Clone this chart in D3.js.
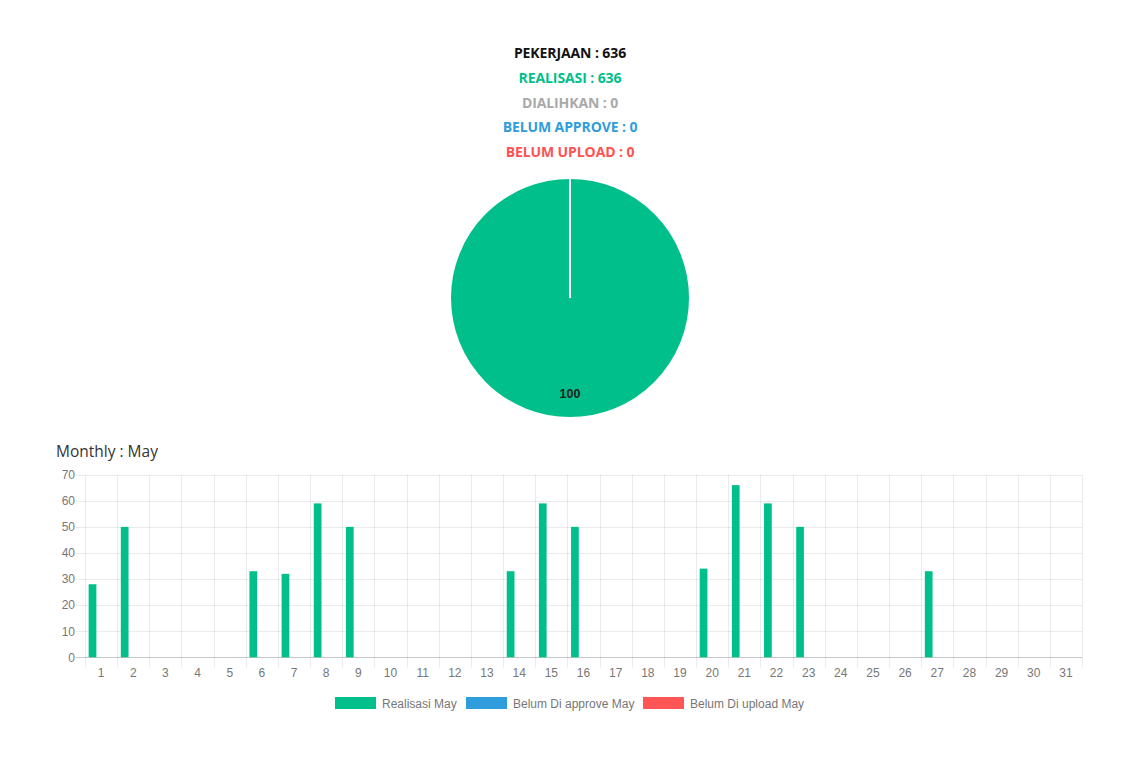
<!DOCTYPE html>
<html>
<head>
<meta charset="utf-8">
<script src="https://cdn.jsdelivr.net/npm/d3@7"></script>
<style>
  html, body { margin: 0; padding: 0; background: #fff; }
  svg { display: block; }
</style>
</head>
<body>
<svg id="chart" width="1140" height="763"></svg>
<script>
// ---- data ----
const summaryLabels = ["PEKERJAAN", "REALISASI", "DIALIHKAN", "BELUM APPROVE", "BELUM UPLOAD"];
const summaryValues = [636, 636, 0, 0, 0];
const summaryColors = ["#111111", "#00bf8a", "#a9a9a9", "#2f9ddb", "#ff5252"];

const pieLabels = ["Realisasi", "Dialihkan", "Belum Approve", "Belum Upload"];
const pieValues = [100, 0, 0, 0];
const pieColors = ["#00bf8a", "#a9a9a9", "#2f9ddb", "#ff5252"];

const days = d3.range(1, 32).map(String);
const realisasiMay = [28,50,0,0,0,33,32,59,50,0,0,0,0,33,59,50,0,0,0,34,66,59,50,0,0,0,33,0,0,0,0];
const belumApproveMay = new Array(31).fill(0);
const belumUploadMay = new Array(31).fill(0);
const seriesNames = ["Realisasi May", "Belum Di approve May", "Belum Di upload May"];
const seriesColors = ["#00bf8a", "#2f9ddb", "#ff5555"];
const yTicks = [0,10,20,30,40,50,60,70];

(function () {
const svg = d3.select("#chart");
const CX = 570;

// ---- summary titles ----
svg.append("g").selectAll("text")
  .data(summaryLabels)
  .join("text")
  .attr("x", CX)
  .attr("y", (d, i) => 58 + i * 24.8)
  .attr("text-anchor", "middle")
  .attr("font-family", "'Open Sans', sans-serif")
  .attr("font-weight", 700)
  .attr("font-size", 14)
  .attr("letter-spacing", "-0.1px")
  .attr("fill", (d, i) => summaryColors[i])
  .text((d, i) => d + " : " + summaryValues[i]);

// ---- pie ----
const R = 120;
const pieG = svg.append("g").attr("transform", `translate(${CX},298)`);
const pie = d3.pie().sort(null).value(d => d);
const arcs = pie(pieValues);
const arc = d3.arc().innerRadius(0).outerRadius(R);
pieG.selectAll("path")
  .data(arcs)
  .join("path")
  .attr("d", arc)
  .attr("fill", (d, i) => pieColors[i])
  .attr("stroke", "#fff")
  .attr("stroke-width", 2);
arcs.filter(a => a.value > 0).forEach(a => {
  pieG.append("line")
    .attr("x1", 0).attr("y1", 0)
    .attr("x2", R * Math.sin(a.startAngle))
    .attr("y2", -R * Math.cos(a.startAngle))
    .attr("stroke", "#fff").attr("stroke-width", 2);
});
const labelArc = d3.arc().innerRadius(R * 0.6).outerRadius(R);
pieG.selectAll("text.pl")
  .data(arcs.filter(a => a.value > 0))
  .join("text")
  .attr("class", "pl")
  .attr("transform", d => `translate(${labelArc.centroid(d)})`)
  .attr("text-anchor", "middle")
  .attr("dy", "0.35em")
  .attr("font-family", "'Liberation Sans', Arial, sans-serif")
  .attr("font-weight", 700)
  .attr("font-size", 12.5)
  .attr("fill", "#222")
  .text(d => d.value);

// ---- monthly heading ----
svg.append("text")
  .attr("x", 56).attr("y", 457)
  .attr("font-family", "'Open Sans', sans-serif")
  .attr("font-size", 15.5)
  .attr("fill", "#333")
  .text("Monthly : May");

// ---- bar chart ----
const pLeft = 85, pRight = 1082, pTop = 474.7, pBottom = 657.3;
const x = d3.scaleBand().domain(days).range([pLeft, pRight]).paddingInner(0).paddingOuter(0);
const y = d3.scaleLinear().domain([0, 70]).range([pBottom, pTop]);
const xInner = d3.scaleBand().domain(seriesNames)
  .range([x.bandwidth() * 0.1, x.bandwidth() * 0.9]).paddingInner(0.1).paddingOuter(0.05);

const grid = svg.append("g");
grid.selectAll("line.h")
  .data(yTicks)
  .join("line")
  .attr("x1", pLeft - 9).attr("x2", pRight)
  .attr("y1", d => Math.round(y(d)) + 0.5).attr("y2", d => Math.round(y(d)) + 0.5)
  .attr("stroke", d => d === 0 ? "rgba(0,0,0,0.22)" : "rgba(0,0,0,0.08)")
  .attr("stroke-width", 1);
const boundaries = days.map(d => x(d)).concat([pRight]);
grid.selectAll("line.v")
  .data(boundaries)
  .join("line")
  .attr("x1", d => Math.round(d) + 0.5).attr("x2", d => Math.round(d) + 0.5)
  .attr("y1", pTop).attr("y2", pBottom + 10)
  .attr("stroke", "rgba(0,0,0,0.08)")
  .attr("stroke-width", 1);

const yAxis = d3.axisLeft(y).tickValues(yTicks).tickSize(0).tickPadding(0);
const yg = svg.append("g").attr("transform", `translate(${pLeft - 10},0)`).call(yAxis);
yg.select(".domain").remove();
yg.selectAll("text")
  .attr("font-family", "'Liberation Sans', Arial, sans-serif")
  .attr("font-size", 12).attr("fill", "#777");

const xAxis = d3.axisBottom(x).tickSize(0).tickPadding(0);
const xg = svg.append("g").attr("transform", `translate(0,${pBottom + 10})`).call(xAxis);
xg.select(".domain").remove();
xg.selectAll("text")
  .attr("dy", "0.75em")
  .attr("y", 1)
  .attr("font-family", "'Liberation Sans', Arial, sans-serif")
  .attr("font-size", 12).attr("fill", "#777");

const seriesData = [realisasiMay, belumApproveMay, belumUploadMay];
const barsG = svg.append("g");
seriesData.forEach((vals, si) => {
  barsG.append("g").selectAll("rect")
    .data(vals.map((v, i) => ({ day: days[i], v })))
    .join("rect")
    .attr("x", d => x(d.day) + xInner(seriesNames[si]))
    .attr("width", xInner.bandwidth())
    .attr("y", d => y(d.v))
    .attr("height", d => y(0) - y(d.v))
    .attr("fill", seriesColors[si]);
});

const legendG = svg.append("g").attr("transform", "translate(0,697)");
const legendX = [335, 466, 643];
seriesNames.forEach((name, i) => {
  legendG.append("rect")
    .attr("x", legendX[i]).attr("y", 0).attr("width", 41).attr("height", 12)
    .attr("fill", seriesColors[i]);
  legendG.append("text")
    .attr("x", legendX[i] + 47).attr("y", 10.5)
    .attr("font-family", "'Liberation Sans', Arial, sans-serif")
    .attr("font-size", 12).attr("fill", "#777")
    .text(name);
});
})();
</script>
</body>
</html>
